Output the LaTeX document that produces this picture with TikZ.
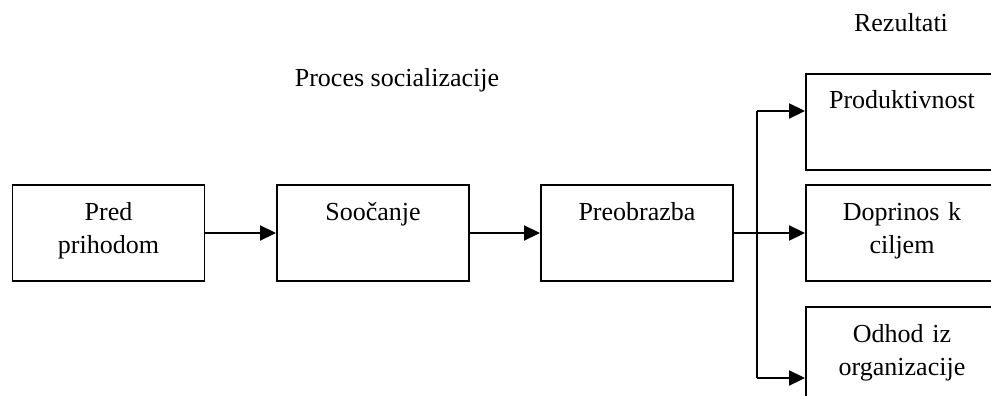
\documentclass[tikz,border=0pt]{standalone}
\usepackage{fontspec}
\setmainfont{Liberation Serif}
\usetikzlibrary{arrows.meta}

\begin{document}
\begin{tikzpicture}[x=1pt,y=-1pt]
		\tikzset{box/.style = {shape=rectangle,draw,line width=1.9pt,inner sep=0pt,text width=192pt,align=center,text height=35pt,text depth=61pt,font=\fontsize{26}{33}\selectfont}}
		\tikzset{edge/.style = {line width=1.9pt,-{Triangle[length=16pt,width=15pt]}}}
		\tikzset{caption/.style = {anchor=base,inner sep=0pt,font=\fontsize{26}{33}\selectfont}}

		\clip (0,0) rectangle (991,396);

		\node[caption] (p) at (397,87) {Proces socializacije};
		\node[caption] (r) at (901,32) {Rezultati};

		\node[box] (a) at (108.5,233) {Pred\\prihodom};
		\node[box] (b) at (373,233) {Soočanje};
		\node[box] (c) at (637,233) {Preobrazba};
		\node[box] (d) at (902,122) {Produktivnost};
		\node[box] (e) at (902,233) {Doprinos k\\ciljem};
		\node[box] (f) at (902,355) {Odhod iz\\organizacije};

		\coordinate (t) at (757,111);
		\coordinate (u) at (757,378);

		\draw[edge] (a) -- (b);
		\draw[edge] (b) -- (c);
		\draw[edge] (c) -- (e);
		\draw[line width=1.9pt] (t) -- (u);
		\draw[edge] (t) -- (t -| d.west);
		\draw[edge] (u) -- (u -| f.west);

	\end{tikzpicture}
\end{document}
